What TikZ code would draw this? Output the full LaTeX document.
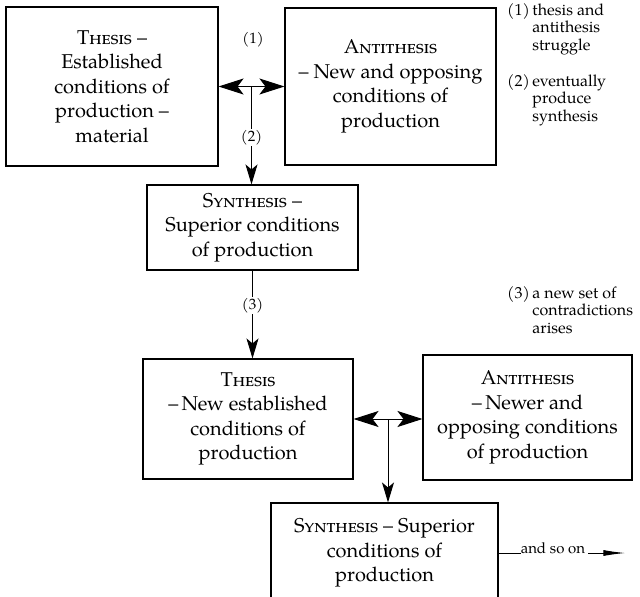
\documentclass[tikz,border=0pt]{standalone}
\usepackage{fontspec}
\setmainfont{TeX Gyre Pagella}
\usetikzlibrary{arrows.meta,calc}
\begin{document}
\begin{tikzpicture}[x=1pt,y=-1pt,
  box/.style={draw,line width=1.1pt,align=center,inner sep=0pt,
    font=\fontsize{20}{24.5}\selectfont},
  link/.style={line width=1pt},
  >={Stealth[length=25pt,width=16pt,inset=6pt]},
  down/.style={link,-{Stealth[length=20pt,width=12pt,inset=5pt]}},
  lab/.style={font=\fontsize{15}{17}\selectfont,inner sep=1pt},
  note/.style={font=\fontsize{16}{17.5}\selectfont,inner sep=0pt,anchor=north west}]
\useasboundingbox (0,0) rectangle (640,597);
\clip (0,0) rectangle (640,597);

% first round: thesis, antithesis, synthesis
\node[box,minimum width=212pt,minimum height=159pt] (th1) at (112,86.5)
  {\textsc{Thesis} –\\ Established\\ conditions of\\ production –\\ material};
\node[box,minimum width=211pt,minimum height=157pt] (an1) at (390.5,86.5)
  {\textsc{Antithesis}\\ – New and opposing\\ conditions of\\ production};
\node[box,minimum width=211pt,minimum height=85pt] (sy1) at (252.5,227.5)
  {\textsc{Synthesis} –\\ Superior conditions\\ of production};

% second round
\node[box,minimum width=210pt,minimum height=120pt] (th2) at (248,419)
  {\textsc{Thesis}\\ –\,New established\\ conditions of\\ production};
\node[box,minimum width=209pt,minimum height=125pt] (an2) at (527.5,417.5)
  {\textsc{Antithesis}\\ –\,Newer and\\ opposing conditions\\ of production};
\node[box,minimum width=227pt,minimum height=100pt] (sy3) at (384.5,553)
  {\textsc{Synthesis} – Superior\\ conditions of\\ production};

% struggle and its outcome
\draw[link,<->] (th1.east) -- (an1.west);
\coordinate (m1) at ($(th1.east)!0.5!(an1.west)$);
\node[lab] (l1) at (253,40) {(1)};
\draw[down] (m1) -- node[lab,fill=white,pos=0.52] (l2) {(2)} (m1 |- sy1.north);

\draw[down] (sy1.south) -- node[lab,fill=white,pos=0.40] (l3) {(3)} (sy1.south |- th2.north);

\draw[link,<->] (th2.east) -- (th2.east -| an2.west);
\coordinate (m2) at ($(th2.east)!0.5!(th2.east -| an2.west)$);
\draw[down] (m2) -- (m2 |- sy3.north);

% continuation
\node[lab,anchor=base west,inner sep=0pt] (aso) at ($(sy3.east)+(22,0)$) {and so on};
\draw[link] (sy3.east) -- (aso.base west);
\draw[link,-{Latex[length=22pt,width=6pt]}] ([xshift=3pt]aso.base east) -- ++(37,0);

% key
\node[note] (k1) at (507,3) {\begin{tabular}{@{}l@{\,}l@{}}(1)&thesis and\\&antithesis\\&struggle\end{tabular}};
\node[note] (k2) at (507,74) {\begin{tabular}{@{}l@{\,}l@{}}(2)&eventually\\&produce\\&synthesis\end{tabular}};
\node[note] (k3) at (507,286) {\begin{tabular}{@{}l@{\,}l@{}}(3)&a new set of\\&contradictions\\&arises\end{tabular}};
\end{tikzpicture}
\end{document}
